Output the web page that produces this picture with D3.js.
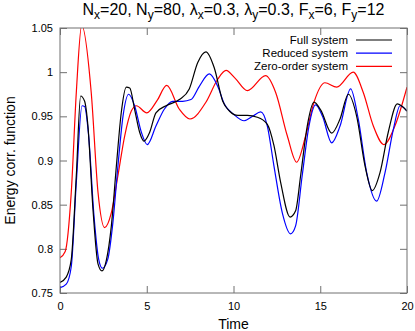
<!DOCTYPE html>
<html>
<head>
<meta charset="utf-8">
<script src="https://cdn.jsdelivr.net/npm/d3@7"></script>
<style>
  body { margin: 0; background: #fff; }
  text { font-family: "Liberation Sans", Arial, sans-serif; fill: #000; }
</style>
</head>
<body>
<div id="chart"></div>
<script>
// data: [time, value]
var fullSystem = [[0,0.762],[0.36,0.768],[0.65,0.788],[0.94,0.883],[1.19,0.973],[1.42,0.967],[1.61,0.939],[1.9,0.845],[2.19,0.783],[2.42,0.775],[2.67,0.787],[2.96,0.826],[3.25,0.894],[3.53,0.954],[3.82,0.983],[4.02,0.982],[4.3,0.958],[4.59,0.932],[4.84,0.922],[5.17,0.932],[5.53,0.954],[6.11,0.962],[6.88,0.969],[7.45,0.981],[7.94,1.011],[8.41,1.023],[8.89,1.005],[9.38,0.967],[9.76,0.956],[10.26,0.951],[10.8,0.951],[11.37,0.949],[11.95,0.941],[12.33,0.917],[12.72,0.875],[13.26,0.836],[13.58,0.843],[13.87,0.883],[14.25,0.939],[14.64,0.966],[15.03,0.957],[15.66,0.931],[16.14,0.947],[16.62,0.975],[17.1,0.95],[17.58,0.894],[18.0,0.866],[18.44,0.886],[18.92,0.932],[19.44,0.964],[20,0.956]]
var reducedSystem = [[0,0.756],[0.36,0.76],[0.65,0.78],[0.94,0.875],[1.27,0.962],[1.42,0.961],[1.65,0.928],[1.96,0.837],[2.23,0.788],[2.44,0.778],[2.75,0.788],[3.05,0.83],[3.34,0.894],[3.63,0.95],[3.96,0.975],[4.3,0.962],[4.69,0.932],[5.03,0.918],[5.53,0.939],[6.01,0.958],[6.5,0.967],[7.07,0.967],[7.55,0.969],[8.03,0.984],[8.61,0.998],[9.09,0.984],[9.47,0.964],[10.03,0.952],[10.61,0.945],[11.1,0.95],[11.57,0.955],[11.95,0.939],[12.33,0.894],[12.81,0.841],[13.29,0.817],[13.58,0.826],[13.96,0.883],[14.35,0.939],[14.73,0.963],[15.13,0.95],[15.66,0.92],[16.14,0.939],[16.75,0.981],[17.19,0.947],[17.68,0.886],[18.25,0.854],[18.73,0.886],[19.21,0.935],[19.6,0.962],[20,0.956]]
var zeroOrder = [[0,0.79],[0.3,0.797],[0.65,0.864],[0.94,0.977],[1.25,1.053],[1.8,0.977],[2.19,0.864],[2.57,0.824],[2.96,0.841],[3.34,0.883],[3.73,0.928],[4.11,0.956],[4.4,0.962],[5.0,0.954],[5.6,0.968],[6.15,0.985],[6.88,0.958],[7.49,0.947],[8.41,0.966],[9.09,0.992],[9.57,1.002],[10.1,0.993],[10.8,0.979],[11.85,0.996],[12.43,0.977],[13.1,0.928],[13.64,0.898],[14.16,0.928],[14.64,0.966],[15.27,0.988],[15.95,0.983],[16.9,1.0],[17.48,0.977],[18.06,0.939],[18.67,0.918],[19.3,0.939],[20,0.983]]

var seriesNames = ["Full system", "Reduced system", "Zero-order system"]
var seriesColors = ["#000000", "#0000ff", "#ff0000"]
var xTicks = [0, 5, 10, 15, 20]
var yTicks = [0.75, 0.8, 0.85, 0.9, 0.95, 1, 1.05]
var titleParts = [["N",""],["x","sub"],["=20, N",""],["y","sub"],["=80, λ",""],["x","sub"],["=0.3, λ",""],["y","sub"],["=0.3, F",""],["x","sub"],["=6, F",""],["y","sub"],["=12",""]]

var W = 415, H = 331
var margin = {top: 28, right: 8, bottom: 38, left: 60}
var width = W - margin.left - margin.right
var height = H - margin.top - margin.bottom
var tickLen = 7, frameColor = "#707070"

var svg = d3.select("#chart").append("svg")
    .attr("width", W).attr("height", H)

var x = d3.scaleLinear().domain([0, 20]).range([0, width])
var y = d3.scaleLinear().domain([0.75, 1.05]).range([height, 0])

var g = svg.append("g")
    .attr("transform", "translate(" + margin.left + "," + margin.top + ")")

// axes, gnuplot style ticks pointing inward
var xb = g.append("g").attr("transform", "translate(0," + height + ")")
    .call(d3.axisBottom(x).tickValues(xTicks).tickSizeInner(-tickLen).tickSizeOuter(0).tickPadding(9).tickFormat(d3.format("d")))
var xt = g.append("g")
    .call(d3.axisTop(x).tickValues(xTicks).tickSizeInner(-tickLen).tickSizeOuter(0).tickFormat(""))
var yl = g.append("g")
    .call(d3.axisLeft(y).tickValues(yTicks).tickSizeInner(-tickLen).tickSizeOuter(0).tickPadding(7).tickFormat(function(d){ return d3.format("")(+d.toFixed(2)) }))
var yr = g.append("g").attr("transform", "translate(" + width + ",0)")
    .call(d3.axisRight(y).tickValues(yTicks).tickSizeInner(-tickLen).tickSizeOuter(0).tickFormat(""))

g.selectAll(".domain").remove()
g.selectAll(".tick line").style("stroke", frameColor)
g.selectAll(".tick text").style("font-size", "11px").style("font-family", "'Liberation Sans', Arial, sans-serif")

g.append("clipPath").attr("id", "clip")
  .append("rect").attr("width", width).attr("height", height)

var line = d3.line()
    .x(function(d){ return x(d[0]) })
    .y(function(d){ return y(d[1]) })
    .curve(d3.curveMonotoneX)

var allSeries = [fullSystem, reducedSystem, zeroOrder]
// zero-order first so the others sit on top
;[2, 1, 0].forEach(function(i){
    g.append("path")
        .attr("d", line(allSeries[i]))
        .attr("clip-path", "url(#clip)")
        .style("fill", "none")
        .style("stroke", seriesColors[i])
        .style("stroke-width", 1.2)
})

g.append("rect")
    .attr("width", width).attr("height", height)
    .style("fill", "none").style("stroke", frameColor).style("stroke-width", 1)

// legend
var rowH = 13.2
var legend = g.append("g").attr("transform", "translate(" + (348 - margin.left) + "," + (44 - margin.top) + ")")
seriesNames.forEach(function(name, i){
    legend.append("text")
        .attr("x", 0).attr("y", i * rowH)
        .attr("text-anchor", "end")
        .style("font-size", "11.5px")
        .text(name)
    legend.append("line")
        .attr("x1", 8).attr("x2", 44)
        .attr("y1", i * rowH - 4).attr("y2", i * rowH - 4)
        .style("stroke", seriesColors[i]).style("stroke-width", 1.2)
})

// title
var title = svg.append("text")
    .attr("x", margin.left + width / 2).attr("y", 15)
    .attr("text-anchor", "middle")
    .style("font-size", "16px")
var shift = 0
titleParts.forEach(function(p){
    var dy = 0
    if (p[1] == "sub" && shift == 0) { dy = 3.5; shift = 3.5 }
    else if (p[1] != "sub" && shift != 0) { dy = -3.5; shift = 0 }
    title.append("tspan").attr("dy", dy)
        .style("font-size", p[1] == "sub" ? "12px" : "16px")
        .text(p[0])
})

svg.append("text")
    .attr("x", margin.left + width / 2).attr("y", 329)
    .attr("text-anchor", "middle")
    .style("font-size", "14px")
    .text("Time")

svg.append("text")
    .attr("transform", "translate(15," + (margin.top + height / 2) + ") rotate(-90)")
    .attr("text-anchor", "middle")
    .style("font-size", "14px")
    .text("Energy corr. function")
</script>
</body>
</html>
